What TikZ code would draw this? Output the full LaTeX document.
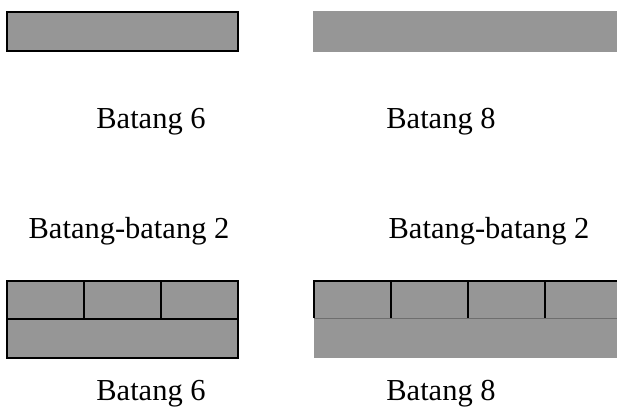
\documentclass[tikz,border=0pt]{standalone}
\usepackage{fontspec}
\setmainfont{Liberation Serif}
\definecolor{barfill}{RGB}{150,150,150}
\definecolor{seam}{RGB}{110,110,110}
\tikzset{
  rod/.style={fill=barfill, draw=black, line width=2pt},
  plainrod/.style={fill=barfill, draw=none},
  edge/.style={draw=black, line width=2pt},
  caption/.style={anchor=base, inner sep=0pt, font=\fontsize{30.5}{36}\selectfont}
}
\begin{document}
\begin{tikzpicture}[x=1pt,y=-1pt]
\useasboundingbox (0,0) rectangle (617,408);

% top row: single rods
\path[rod] (7,12) rectangle (238,51);
\path[plainrod] (313,11) rectangle (617,52);

\node[caption] (l6) at (151,128) {Batang 6};
\node[caption] (l8) at (441,128) {Batang 8};

\node[caption] (l2a) at (129,238) {Batang-batang 2};
\node[caption] (l2b) at (489,238) {Batang-batang 2};

% bottom left: three short rods on a rod of 6
\path[rod] (7,281) rectangle (84,319);
\path[rod] (84,281) rectangle (161,319);
\path[rod] (161,281) rectangle (238,319);
\path[rod] (7,319) rectangle (238,358);

% bottom right: four short rods on a rod of 8
\path[plainrod] (314,281) rectangle (617,358);
\draw[seam, line width=1pt] (314,318) -- (617,318);
\draw[edge] (314,318) -- (314,281) -- (617,281);
\draw[edge] (391,281) -- (391,318);
\draw[edge] (468,281) -- (468,318);
\draw[edge] (545,281) -- (545,318);

\node[caption] (b6) at (151,400) {Batang 6};
\node[caption] (b8) at (441,400) {Batang 8};
\end{tikzpicture}
\end{document}
